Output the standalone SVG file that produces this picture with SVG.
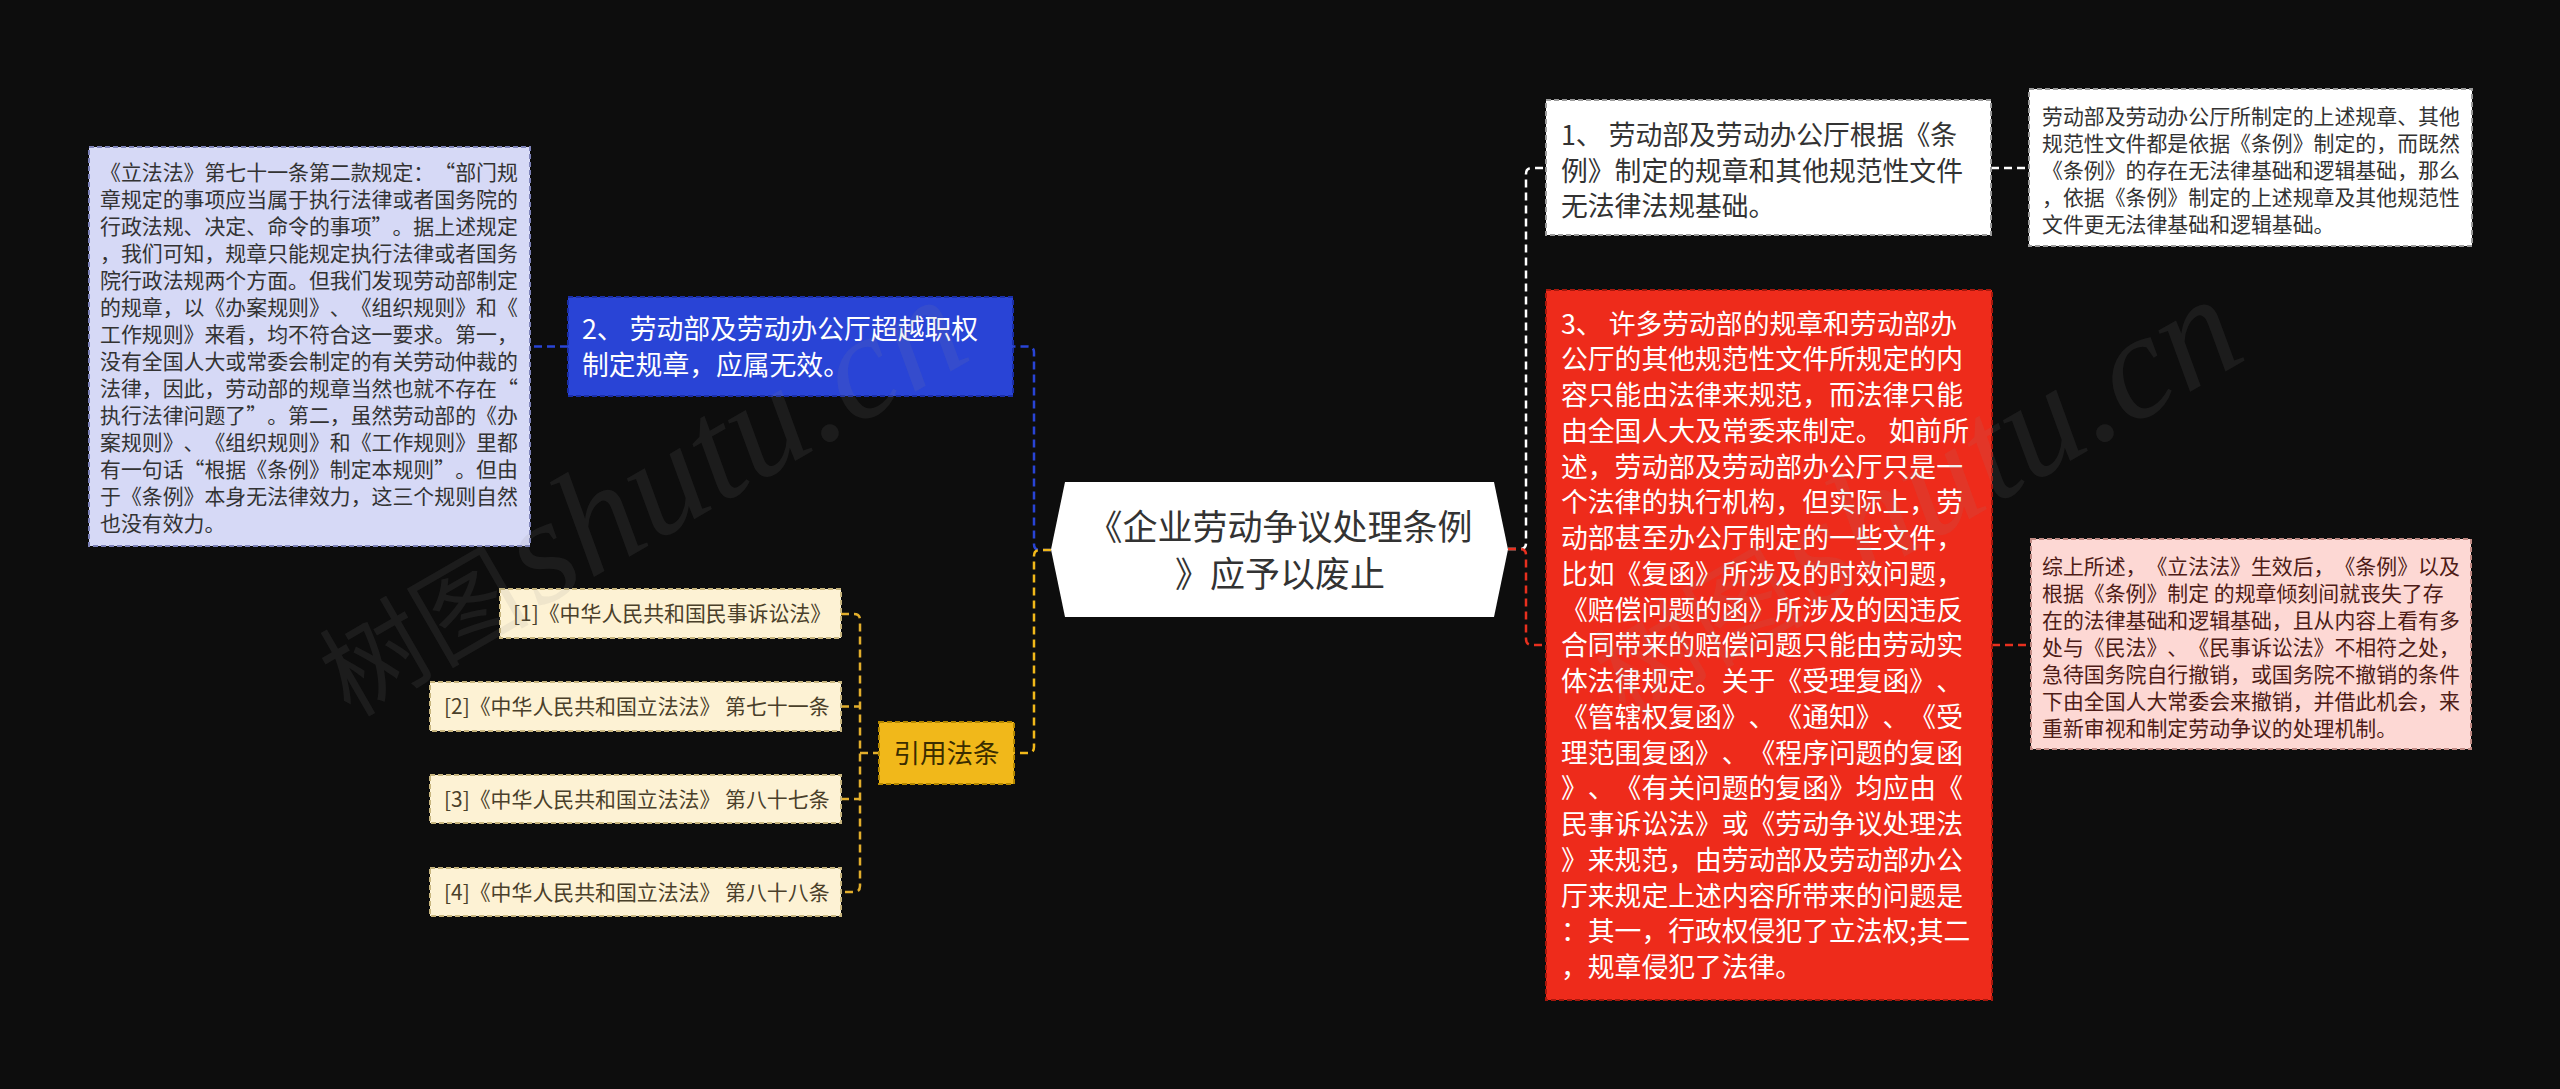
<svg xmlns="http://www.w3.org/2000/svg" width="2560" height="1089" viewBox="0 0 2560 1089">
<style>
text{font-family:"Noto Sans CJK SC","Noto Sans",sans-serif;text-spacing-trim:space-all;font-kerning:none;font-feature-settings:"chws" 0,"halt" 0,"palt" 0;}
.bd{stroke-width:2;stroke-dasharray:5 3;}
.cn{fill:none;stroke-width:2.5;stroke-dasharray:8 5;}
.det{font-size:20.9px;}
.sub{font-size:26.8px;}
.wm{fill:#8a8a8a;fill-opacity:0.12;}
.wml{font-family:"Liberation Serif",serif;font-style:italic;font-size:150px;}
</style>
<rect x="0" y="0" width="2560" height="1089" fill="#0d0d0d"/>

<g id="connectors">
  <path class="cn" stroke="#2944d6" d="M1051,550 H1040 Q1034,550 1034,544 V352.5 Q1034,346.5 1028,346.5 H1013"/>
  <path class="cn" stroke="#2944d6" d="M568,346.5 H530"/>
  <path class="cn" stroke="#f1b81a" d="M1051,550 H1040 Q1034,550 1034,556 V747 Q1034,753 1028,753 H1014"/>
  <path class="cn" stroke="#e2ae2c" d="M841,614 H854 Q860,614 860,620 V886 Q860,892 854,892 H841"/>
  <path class="cn" stroke="#e2ae2c" d="M841,706.5 H860 M841,799 H860 M860,753 H879"/>
  <path class="cn" stroke="#ffffff" d="M1508,549 H1520 Q1526,549 1526,543 V174 Q1526,168 1532,168 H1546"/>
  <path class="cn" stroke="#ffffff" d="M1991,168 H2029"/>
  <path class="cn" stroke="#e8301f" d="M1508,549 H1520 Q1526,549 1526,555 V639 Q1526,645 1532,645 H1546"/>
  <path class="cn" stroke="#e8301f" d="M1992,645 H2031"/>
</g>

<g id="root">
  <polygon points="1065,482 1494,482 1508,549.5 1494,617 1065,617 1051,549.5" fill="#ffffff"/>
  <text x="1280" y="540" font-size="35" fill="#333333" text-anchor="middle">《企业劳动争议处理条例</text>
  <text x="1280" y="587" font-size="35" fill="#333333" text-anchor="middle">》应予以废止</text>
</g>

<g id="node-2">
  <rect class="bd" x="568" y="297" width="445" height="99" fill="#2944d6" stroke="#1a2ea8"/>
  <text class="sub" fill="#ffffff"><tspan x="582" y="339">2、 劳动部及劳动办公厅超越职权</tspan><tspan x="582" y="375">制定规章，应属无效。</tspan></text>
</g>

<g id="detail-2">
  <rect class="bd" x="89" y="147" width="441" height="399" fill="#d6d9f6" stroke="#7d82b8"/>
  <text class="det" fill="#333333">
    <tspan x="100" y="180">《立法法》第七十一条第二款规定：“部门规</tspan>
    <tspan x="100" y="207">章规定的事项应当属于执行法律或者国务院的</tspan>
    <tspan x="100" y="234">行政法规、决定、命令的事项”。据上述规定</tspan>
    <tspan x="100" y="261">，我们可知，规章只能规定执行法律或者国务</tspan>
    <tspan x="100" y="288">院行政法规两个方面。但我们发现劳动部制定</tspan>
    <tspan x="100" y="315">的规章，以《办案规则》、《组织规则》和《</tspan>
    <tspan x="100" y="342">工作规则》来看，均不符合这一要求。第一，</tspan>
    <tspan x="100" y="369">没有全国人大或常委会制定的有关劳动仲裁的</tspan>
    <tspan x="100" y="396">法律，因此，劳动部的规章当然也就不存在“</tspan>
    <tspan x="100" y="423">执行法律问题了”。第二，虽然劳动部的《办</tspan>
    <tspan x="100" y="450">案规则》、《组织规则》和《工作规则》里都</tspan>
    <tspan x="100" y="477">有一句话“根据《条例》制定本规则”。但由</tspan>
    <tspan x="100" y="504">于《条例》本身无法律效力，这三个规则自然</tspan>
    <tspan x="100" y="531">也没有效力。</tspan>
  </text>
</g>

<g id="node-cite">
  <rect class="bd" x="879" y="722" width="135" height="62" fill="#f1b81a" stroke="#b58800"/>
  <text x="946.5" y="763" font-size="26.5" fill="#3a2c00" text-anchor="middle">引用法条</text>
</g>

<g id="cite-1">
  <rect class="bd" x="500" y="589" width="341" height="49" fill="#fdf2d4" stroke="#c7b57e"/>
  <text class="det" x="513" y="621" fill="#4a402a">[1]《中华人民共和国民事诉讼法》</text>
</g>
<g id="cite-2">
  <rect class="bd" x="430" y="682" width="411" height="49" fill="#fdf2d4" stroke="#c7b57e"/>
  <text class="det" x="444" y="714" fill="#4a402a">[2]《中华人民共和国立法法》 第七十一条</text>
</g>
<g id="cite-3">
  <rect class="bd" x="430" y="775" width="411" height="48" fill="#fdf2d4" stroke="#c7b57e"/>
  <text class="det" x="444" y="807" fill="#4a402a">[3]《中华人民共和国立法法》 第八十七条</text>
</g>
<g id="cite-4">
  <rect class="bd" x="430" y="868" width="411" height="48" fill="#fdf2d4" stroke="#c7b57e"/>
  <text class="det" x="444" y="900" fill="#4a402a">[4]《中华人民共和国立法法》 第八十八条</text>
</g>

<g id="node-1">
  <rect class="bd" x="1546" y="100" width="445" height="135" fill="#ffffff" stroke="#9a9a9a"/>
  <text class="sub" fill="#333333"><tspan x="1561" y="145">1、 劳动部及劳动办公厅根据《条</tspan><tspan x="1561" y="180.5">例》制定的规章和其他规范性文件</tspan><tspan x="1561" y="216">无法律法规基础。</tspan></text>
</g>

<g id="detail-1">
  <rect class="bd" x="2029" y="89" width="443" height="157" fill="#ffffff" stroke="#9a9a9a"/>
  <text class="det" fill="#333333">
    <tspan x="2042" y="123.7">劳动部及劳动办公厅所制定的上述规章、其他</tspan>
    <tspan x="2042" y="150.7">规范性文件都是依据《条例》制定的，而既然</tspan>
    <tspan x="2042" y="177.7">《条例》的存在无法律基础和逻辑基础，那么</tspan>
    <tspan x="2042" y="204.7">，依据《条例》制定的上述规章及其他规范性</tspan>
    <tspan x="2042" y="231.7">文件更无法律基础和逻辑基础。</tspan>
  </text>
</g>

<g id="node-3">
  <rect class="bd" x="1546" y="290" width="446" height="710" fill="#ee2b1b" stroke="#a8170c"/>
  <text class="sub" fill="#ffffff">
    <tspan x="1561" y="333.5">3、 许多劳动部的规章和劳动部办</tspan>
    <tspan x="1561" y="369.25">公厅的其他规范性文件所规定的内</tspan>
    <tspan x="1561" y="405">容只能由法律来规范，而法律只能</tspan>
    <tspan x="1561" y="440.75">由全国人大及常委来制定。 如前所</tspan>
    <tspan x="1561" y="476.5">述，劳动部及劳动部办公厅只是一</tspan>
    <tspan x="1561" y="512.25">个法律的执行机构，但实际上，劳</tspan>
    <tspan x="1561" y="548">动部甚至办公厅制定的一些文件，</tspan>
    <tspan x="1561" y="583.75">比如《复函》所涉及的时效问题，</tspan>
    <tspan x="1561" y="619.5">《赔偿问题的函》所涉及的因违反</tspan>
    <tspan x="1561" y="655.25">合同带来的赔偿问题只能由劳动实</tspan>
    <tspan x="1561" y="691">体法律规定。关于《受理复函》、</tspan>
    <tspan x="1561" y="726.75">《管辖权复函》、《通知》、《受</tspan>
    <tspan x="1561" y="762.5">理范围复函》、《程序问题的复函</tspan>
    <tspan x="1561" y="798.25">》、《有关问题的复函》均应由《</tspan>
    <tspan x="1561" y="834">民事诉讼法》或《劳动争议处理法</tspan>
    <tspan x="1561" y="869.75">》来规范，由劳动部及劳动部办公</tspan>
    <tspan x="1561" y="905.5">厅来规定上述内容所带来的问题是</tspan>
    <tspan x="1561" y="941.25">：其一，行政权侵犯了立法权;其二</tspan>
    <tspan x="1561" y="977">，规章侵犯了法律。</tspan>
  </text>
</g>

<g id="detail-3">
  <rect class="bd" x="2031" y="539" width="440" height="210" fill="#fdd8d4" stroke="#c08a84"/>
  <text class="det" fill="#4e1c17">
    <tspan x="2042" y="573.7">综上所述，《立法法》生效后，《条例》以及</tspan>
    <tspan x="2042" y="600.8">根据《条例》制定 的规章倾刻间就丧失了存</tspan>
    <tspan x="2042" y="627.9">在的法律基础和逻辑基础，且从内容上看有多</tspan>
    <tspan x="2042" y="655">处与《民法》、《民事诉讼法》不相符之处，</tspan>
    <tspan x="2042" y="682.1">急待国务院自行撤销，或国务院不撤销的条件</tspan>
    <tspan x="2042" y="709.2">下由全国人大常委会来撤销，并借此机会，来</tspan>
    <tspan x="2042" y="736.3">重新审视和制定劳动争议的处理机制。</tspan>
  </text>
</g>

<g id="watermarks">
  <g transform="translate(350,718) rotate(-30)">
    <text class="wm" x="0" y="0" font-size="105">树图</text>
    <text class="wm wml" x="218" y="0">shutu.cn</text>
  </g>
  <g transform="translate(1625,718) rotate(-30)">
    <text class="wm" x="0" y="0" font-size="105">树图</text>
    <text class="wm wml" x="218" y="0">shutu.cn</text>
  </g>
</g>
</svg>
